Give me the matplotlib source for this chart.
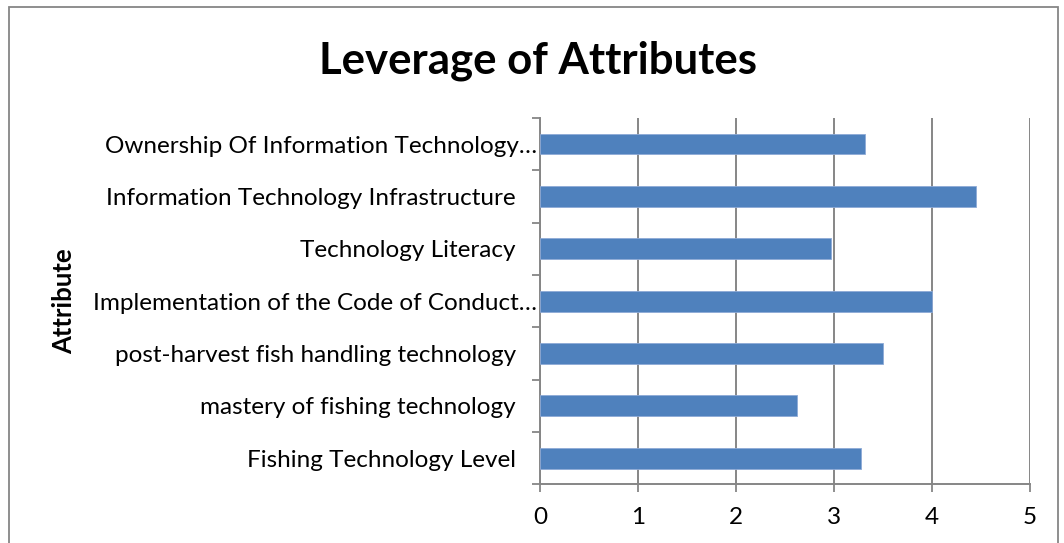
import matplotlib.pyplot as plt
from matplotlib.patches import Rectangle
from matplotlib.transforms import ScaledTranslation

# attributes from bottom to top, as the chart draws them
attributes = [
    "Fishing Technology Level ",
    "mastery of fishing technology ",
    "post-harvest fish handling technology ",
    "Implementation of the Code of Conduct…",
    "Technology Literacy ",
    "Information Technology Infrastructure ",
    "Ownership Of Information Technology…",
]
leverage = [3.28, 2.62, 3.50, 4.00, 2.97, 4.45, 3.32]
x_ticks = [0, 1, 2, 3, 4, 5]

plt.rcParams['font.family'] = ['Lato', 'DejaVu Sans']

fig = plt.figure(figsize=(10.64, 5.43), dpi=100)
ax = fig.add_axes([0.5075, 0.108, 0.4605, 0.675])

pos = list(range(len(attributes)))
ax.barh(pos, leverage, height=0.4, color='#4F81BD', edgecolor='#8eaad6',
        linewidth=0.6, zorder=3)

ax.set_xlim(0, 5)
ax.set_ylim(-0.5, len(attributes) - 0.5)
ax.set_xticks(x_ticks)
ax.set_xticklabels([str(t) for t in x_ticks], fontsize=17.5)

# labels sit on the categories, tick marks on the boundaries between them
ax.set_yticks(pos)
ax.set_yticklabels(attributes, fontsize=17.5)
ax.tick_params(axis='y', which='major', length=0, pad=2)
ax.set_yticks([p - 0.5 for p in pos] + [len(pos) - 0.5], minor=True)
ax.tick_params(axis='y', which='minor', length=6, width=1.3, color='#868686')
ax.tick_params(axis='x', length=6, width=1.3, color='#868686', pad=10)

# the trailing space of the full labels keeps them further from the axis
shift = ScaledTranslation(-15 / 100, 0, fig.dpi_scale_trans)
for lab in ax.get_yticklabels():
    if not lab.get_text().endswith('…'):
        lab.set_transform(lab.get_transform() + shift)

ax.grid(axis='x', color='#868686', linewidth=1.4, zorder=0)
for side in ['top', 'right']:
    ax.spines[side].set_visible(False)
for side in ['left', 'bottom']:
    ax.spines[side].set_color('#868686')
    ax.spines[side].set_linewidth(1.4)

ax.set_ylabel('Attribute', fontsize=18.5, fontweight='bold')
ax.yaxis.set_label_coords(-0.947, 0.5)
fig.suptitle('Leverage of Attributes', fontsize=31.5, fontweight='bold',
             x=0.506, y=0.925)

# chart border
fig.patches.append(Rectangle((0.0085, -0.05), 0.986, 1.037, transform=fig.transFigure,
                             fill=False, edgecolor='#868686', linewidth=1.3))

fig.savefig('out.png', dpi=100)
